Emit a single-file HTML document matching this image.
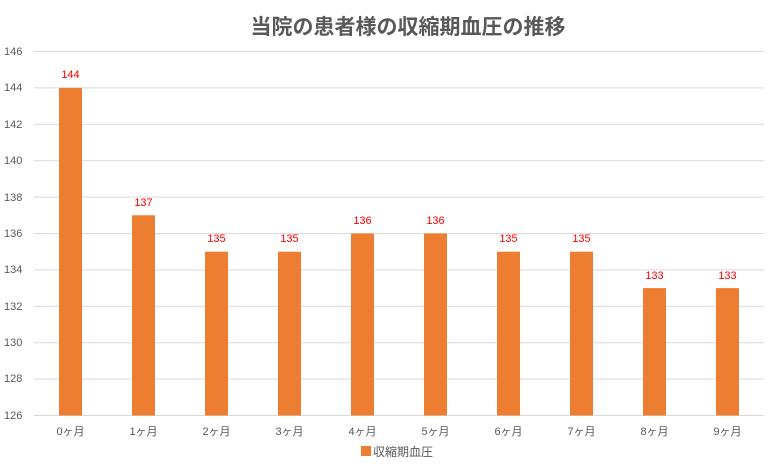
<!DOCTYPE html>
<html><head><meta charset="utf-8"><style>
body{margin:0;background:#fff;}
svg text{font-family:"Liberation Sans","Noto Sans CJK JP",sans-serif;}
</style></head><body>
<svg width="776" height="471" xmlns="http://www.w3.org/2000/svg">
<rect width="776" height="471" fill="#fff"/>
<text x="408" y="34" text-anchor="middle" font-size="21" font-weight="bold" fill="#595959">当院の患者様の収縮期血圧の推移</text>
<g stroke="#d9d9d9" stroke-width="1">
<line x1="34" x2="764" y1="51.5" y2="51.5"/>
<line x1="34" x2="764" y1="87.9" y2="87.9"/>
<line x1="34" x2="764" y1="124.3" y2="124.3"/>
<line x1="34" x2="764" y1="160.7" y2="160.7"/>
<line x1="34" x2="764" y1="197.1" y2="197.1"/>
<line x1="34" x2="764" y1="233.5" y2="233.5"/>
<line x1="34" x2="764" y1="269.9" y2="269.9"/>
<line x1="34" x2="764" y1="306.3" y2="306.3"/>
<line x1="34" x2="764" y1="342.7" y2="342.7"/>
<line x1="34" x2="764" y1="379.1" y2="379.1"/>
<line x1="34" x2="764" y1="415.5" y2="415.5"/>
</g>
<g font-size="11" fill="#595959" text-anchor="start">
<text x="4" y="55">146</text><text x="4" y="91">144</text><text x="4" y="128">142</text><text x="4" y="164">140</text><text x="4" y="201">138</text><text x="4" y="237">136</text><text x="4" y="273">134</text><text x="4" y="310">132</text><text x="4" y="346">130</text><text x="4" y="382">128</text><text x="4" y="419">126</text>
</g>
<g fill="#ed7d31">
<rect x="59" y="87.9" width="23" height="327.6"/>
<rect x="132" y="215.3" width="23" height="200.2"/>
<rect x="205" y="251.7" width="23" height="163.8"/>
<rect x="278" y="251.7" width="23" height="163.8"/>
<rect x="351" y="233.5" width="23" height="182"/>
<rect x="424" y="233.5" width="23" height="182"/>
<rect x="497" y="251.7" width="23" height="163.8"/>
<rect x="570" y="251.7" width="23" height="163.8"/>
<rect x="643" y="288.1" width="23" height="127.4"/>
<rect x="716" y="288.1" width="23" height="127.4"/>
</g>
<g font-size="11" fill="#ff0000" text-anchor="middle">
<text x="70.5" y="78">144</text><text x="143.5" y="206">137</text><text x="216.5" y="242">135</text><text x="289.5" y="242">135</text><text x="362.5" y="224">136</text><text x="435.5" y="224">136</text><text x="508.5" y="242">135</text><text x="581.5" y="242">135</text><text x="654.5" y="279">133</text><text x="727.5" y="279">133</text>
</g>
<g font-size="11" fill="#595959" text-anchor="middle">
<text x="70.5" y="435">0ヶ月</text><text x="143.5" y="435">1ヶ月</text><text x="216.5" y="435">2ヶ月</text><text x="289.5" y="435">3ヶ月</text><text x="362.5" y="435">4ヶ月</text><text x="435.5" y="435">5ヶ月</text><text x="508.5" y="435">6ヶ月</text><text x="581.5" y="435">7ヶ月</text><text x="654.5" y="435">8ヶ月</text><text x="727.5" y="435">9ヶ月</text>
</g>
<rect x="361" y="446" width="10" height="10" fill="#ed7d31"/>
<text x="373" y="456" font-size="12" fill="#595959">収縮期血圧</text>
</svg>
</body></html>
